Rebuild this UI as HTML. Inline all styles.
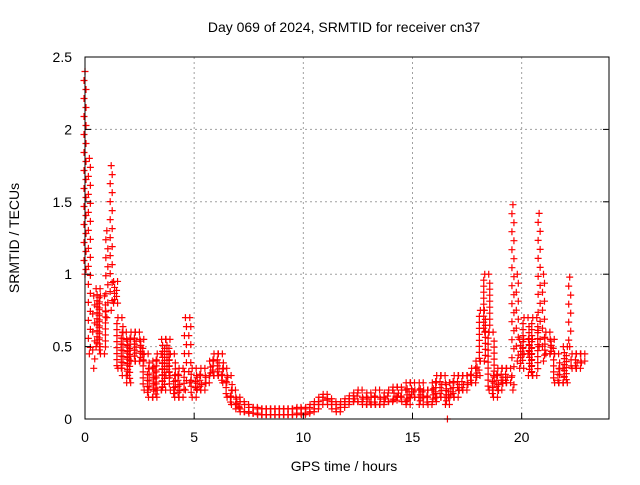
<!DOCTYPE html>
<html><head><meta charset="utf-8">
<style>
body{margin:0;background:#fff;}
svg text{font-family:"Liberation Sans",sans-serif;font-size:14px;fill:#000;}
</style></head>
<body>
<svg id="chart" width="640" height="480" xmlns="http://www.w3.org/2000/svg">
<rect width="640" height="480" fill="#fff"/>
<text x="344" y="32" text-anchor="middle">Day 069 of 2024, SRMTID for receiver cn37</text>
<text x="344" y="471" text-anchor="middle">GPS time / hours</text>
<text x="19" y="238" text-anchor="middle" transform="rotate(-90 19 238)">SRMTID / TECUs</text>
<g id="grid"></g><g id="marks"></g><g id="axes"></g>
</svg>
<script>
const hours=[0,0.2,0.4,0.6,0.8,1.0,1.2,1.4,1.6,1.8,2.0,2.2,2.4,2.6,2.8,3.0,3.2,3.4,3.6,3.8,4.0,4.2,4.4,4.6,4.8,5.0,5.2,5.4,5.6,5.8,6.0,6.2,6.4,6.6,6.8,7.0,7.2,7.4,7.6,7.8,8.0,8.2,8.4,8.6,8.8,9.0,9.2,9.4,9.6,9.8,10.0,10.2,10.4,10.6,10.8,11.0,11.2,11.4,11.6,11.8,12.0,12.2,12.4,12.6,12.8,13.0,13.2,13.4,13.6,13.8,14.0,14.2,14.4,14.6,14.8,15.0,15.2,15.4,15.6,15.8,16.0,16.2,16.4,16.6,16.8,17.0,17.2,17.4,17.6,17.8,18.0,18.2,18.4,18.6,18.8,19.0,19.2,19.4,19.6,19.8,20.0,20.2,20.4,20.6,20.8,21.0,21.2,21.4,21.6,21.8,22.0,22.2,22.4,22.6,22.8];
const lowVals=[1.0,0.45,0.35,0.5,0.45,0.7,0.75,0.8,0.35,0.3,0.25,0.4,0.4,0.4,0.2,0.15,0.15,0.2,0.2,0.3,0.2,0.15,0.15,0.2,0.25,0.15,0.2,0.2,0.25,0.3,0.3,0.3,0.25,0.15,0.1,0.07,0.05,0.05,0.04,0.04,0.03,0.03,0.03,0.03,0.03,0.03,0.03,0.03,0.03,0.04,0.03,0.04,0.05,0.07,0.1,0.13,0.1,0.07,0.05,0.08,0.1,0.12,0.12,0.12,0.1,0.1,0.1,0.1,0.1,0.12,0.12,0.13,0.15,0.12,0.1,0.15,0.15,0.1,0.15,0.1,0.12,0.15,0.15,0.1,0.15,0.15,0.2,0.2,0.25,0.25,0.3,0.4,0.6,0.2,0.15,0.2,0.25,0.25,0.2,0.4,0.35,0.45,0.3,0.3,0.5,0.4,0.45,0.45,0.25,0.25,0.25,0.5,0.35,0.35,0.4];
const highVals=[2.4,1.8,0.85,0.9,0.85,1.3,1.75,0.95,0.7,0.6,0.55,0.6,0.6,0.55,0.45,0.35,0.4,0.45,0.55,0.55,0.45,0.3,0.35,0.7,0.7,0.35,0.3,0.35,0.3,0.4,0.45,0.45,0.35,0.3,0.2,0.15,0.12,0.1,0.08,0.08,0.07,0.07,0.07,0.07,0.07,0.07,0.07,0.07,0.07,0.08,0.07,0.08,0.1,0.12,0.15,0.17,0.14,0.12,0.1,0.12,0.14,0.16,0.18,0.2,0.15,0.18,0.15,0.2,0.15,0.18,0.2,0.22,0.22,0.2,0.25,0.25,0.2,0.25,0.2,0.2,0.25,0.3,0.3,0.25,0.25,0.3,0.3,0.3,0.3,0.35,0.4,0.75,1.0,0.6,0.3,0.35,0.35,0.35,1.48,1.0,0.55,0.7,0.55,0.7,1.42,1.0,0.6,0.55,0.45,0.35,0.5,0.98,0.45,0.45,0.45];
const outlierHours=[16.6];
const outlierVals=[0.0];
const xTicks=[0,5,10,15,20];
const yTicks=[0,0.5,1,1.5,2,2.5];
const yTickLabels=["0","0.5","1","1.5","2","2.5"];

const L=85,R=609,T=57,B=419;
const X=v=>L+(v/24)*(R-L);
const Y=v=>B-(v/2.5)*(B-T);
const NS="http://www.w3.org/2000/svg";
function mk(tag,attrs,parent){const e=document.createElementNS(NS,tag);for(const k in attrs)e.setAttribute(k,attrs[k]);parent.appendChild(e);return e;}
const grid=document.getElementById('grid'),marks=document.getElementById('marks'),axes=document.getElementById('axes');
xTicks.forEach(t=>{
  if(t>0){const g=mk('line',{x1:X(t),x2:X(t),y1:T,y2:B,stroke:'#a0a0a0','stroke-dasharray':'2,3'},grid);
  
  }
  const tk=mk('line',{x1:X(t),x2:X(t),y1:B,y2:B-6,stroke:'#000'},axes);
  
  
  const tx=mk('text',{x:X(t),y:B+23,'text-anchor':'middle'},axes);tx.textContent=t;
  
  
});
yTicks.forEach((t,i)=>{
  if(t>0&&t<2.5){const g=mk('line',{x1:L,x2:R,y1:Y(t),y2:Y(t),stroke:'#a0a0a0','stroke-dasharray':'2,3'},grid);
  
  }
  const tk=mk('line',{x1:L,x2:L+6,y1:Y(t),y2:Y(t),stroke:'#000'},axes);
  
  
  const tk2=mk('line',{x1:R,x2:R-6,y1:Y(t),y2:Y(t),stroke:'#000'},axes);
  
  
  const tx=mk('text',{x:L-13,y:Y(t)+5,'text-anchor':'end'},axes);tx.textContent=yTickLabels[i];
  
  
});
const frame=mk('rect',{x:L,y:T,width:R-L,height:B-T,fill:'none',stroke:'#000'},axes);


function cross(x,y,col){
  const p=mk('path',{d:`M${x-3.5},${y}h7M${x},${y-3.5}v7`,stroke:col,'stroke-width':1.2,fill:'none'},marks);
  
  
}
hours.forEach((h,i)=>{
  const x=X(h),ylo=Y(lowVals[i]),yhi=Y(highVals[i]);
  const span=ylo-yhi;
  const step=span>60?9:6;
  const cols=span>60?[0]:[-2,2];
  cols.forEach((dx,j)=>{
    cross(x+dx,ylo,'#ff0000');
    cross(x+dx,yhi,'#ff0000');
    for(let y=yhi+step+(j*3);y<ylo-2;y+=step)cross(x+dx+((Math.round(y)%2)?1:-1),y,'#ff0000');
  });
});
outlierHours.forEach((h,i)=>cross(X(h),Y(outlierVals[i]),'#ff0000'));
</script>
</body></html>
